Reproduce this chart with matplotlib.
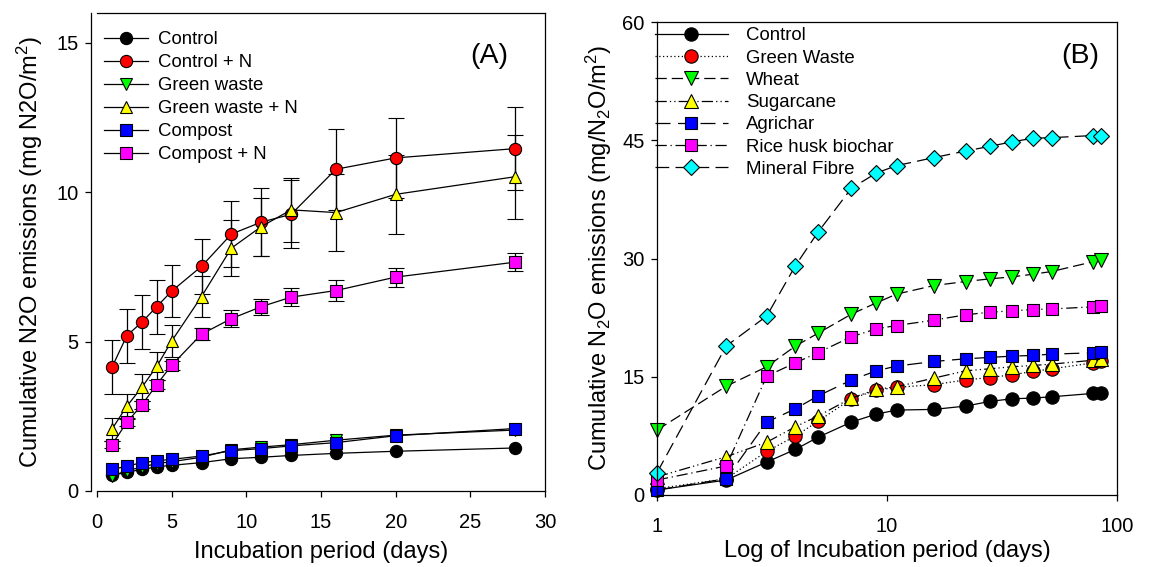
import matplotlib
matplotlib.use("Agg")
import matplotlib.pyplot as plt

plt.rcParams['font.family'] = ['Liberation Sans', 'DejaVu Sans']
plt.rcParams['mathtext.fontset'] = 'custom'
plt.rcParams['mathtext.rm'] = 'Liberation Sans'
plt.rcParams['mathtext.it'] = 'Liberation Sans:italic'
plt.rcParams['mathtext.default'] = 'regular'

# ---------------- Panel A data ----------------
days_a = [1, 2, 3, 4, 5, 7, 9, 11, 13, 16, 20, 28]
control_a = [0.52, 0.63, 0.72, 0.81, 0.86, 0.95, 1.08, 1.13, 1.19, 1.26, 1.33, 1.44]
control_n_a = [4.14, 5.2, 5.65, 6.17, 6.69, 7.52, 8.6, 9.0, 9.26, 10.77, 11.15, 11.46]
control_n_err = [0.9, 0.9, 0.9, 0.9, 0.88, 0.93, 1.1, 1.14, 1.14, 1.35, 1.35, 1.38]
green_a = [0.5, 0.68, 0.8, 0.92, 0.98, 1.13, 1.38, 1.47, 1.55, 1.7, 1.87, 2.04]
green_n_a = [2.07, 2.84, 3.47, 4.17, 5.02, 6.51, 8.13, 8.85, 9.41, 9.32, 9.93, 10.52]
green_n_err = [0.38, 0.4, 0.45, 0.47, 0.54, 0.7, 0.95, 0.97, 1.06, 1.3, 1.33, 1.4]
compost_a = [0.72, 0.83, 0.95, 1.01, 1.06, 1.17, 1.35, 1.42, 1.51, 1.62, 1.85, 2.09]
compost_n_a = [1.55, 2.3, 2.88, 3.56, 4.21, 5.25, 5.77, 6.17, 6.49, 6.71, 7.16, 7.66]
compost_n_err = [0.12, 0.12, 0.13, 0.15, 0.15, 0.2, 0.29, 0.27, 0.29, 0.34, 0.32, 0.29]
labels_a = ["Control", "Control + N", "Green waste", "Green waste + N", "Compost", "Compost + N"]

# ---------------- Panel B data ----------------
days_b = [1, 2, 3, 4, 5, 7, 9, 11, 16, 22, 28, 35, 43, 52, 79, 85]
control_b = [0.63, 1.9, 4.18, 5.79, 7.31, 9.25, 10.27, 10.77, 10.86, 11.28, 11.87, 12.21, 12.29, 12.46, 12.89, 12.97]
greenwaste_b = [0.8, 2.07, 5.53, 7.48, 9.33, 12.2, 13.3, 13.65, 14.0, 14.6, 14.9, 15.25, 15.67, 16.0, 16.77, 16.94]
wheat_b = [8.24, 13.8, 16.27, 18.9, 20.5, 22.94, 24.38, 25.48, 26.57, 27.08, 27.42, 27.67, 28.0, 28.35, 29.6, 29.8]
sugarcane_b = [2.3, 4.86, 6.7, 8.66, 10.0, 12.29, 13.4, 13.73, 14.83, 15.76, 16.01, 16.27, 16.43, 16.6, 17.1, 17.2]
agrichar_b = [0.63, 2.07, 9.25, 10.94, 12.55, 14.58, 15.76, 16.35, 16.94, 17.28, 17.45, 17.62, 17.7, 17.87, 18.04, 18.1]
ricehusk_b = [1.9, 3.68, 15.08, 16.77, 18.04, 20.07, 21.08, 21.5, 22.18, 22.86, 23.19, 23.36, 23.53, 23.6, 23.87, 23.95]
mineral_b = [2.83, 18.9, 22.7, 29.1, 33.3, 38.9, 40.85, 41.78, 42.8, 43.64, 44.23, 44.8, 45.25, 45.33, 45.6, 45.6]
labels_b = ["Control", "Green Waste", "Wheat", "Sugarcane", "Agrichar", "Rice husk biochar", "Mineral Fibre"]

fig = plt.figure(figsize=(11.54, 5.67), dpi=100)

TICK_FS = 14.5
LABEL_FS = 17
LEG_FS = 13.4
LW = 0.9
EW = 0.8

# ---------------- Panel A ----------------
axA = fig.add_axes([97/1154, 1-491/567, 448/1154, 478/567])
specs_a = [
    (control_a, None, 'o', 'black'),
    (control_n_a, control_n_err, 'o', '#FF0000'),
    (green_a, None, 'v', '#00FF00'),
    (green_n_a, green_n_err, '^', '#FFFF00'),
    (compost_a, None, 's', '#0000FF'),
    (compost_n_a, compost_n_err, 's', '#FF00FF'),
]
ms_a = {'o': 8.8, 'v': 8.8, '^': 9.2, 's': 8.0}
handles_a = []
for (vals, err, mk, col), lab in zip(specs_a, labels_a):
    cont = axA.errorbar(days_a, vals, yerr=err, fmt='-', color='black', lw=LW,
                        marker=mk, markersize=ms_a[mk], markerfacecolor=col,
                        markeredgecolor='black', markeredgewidth=EW,
                        ecolor='black', elinewidth=LW, capsize=6, capthick=LW,
                        label=lab, clip_on=False)
    handles_a.append(cont.lines[0])
axA.set_xlim(0, 30)
axA.set_ylim(0, 16)
axA.set_xticks([0, 5, 10, 15, 20, 25, 30])
axA.set_yticks([0, 5, 10, 15])
axA.spines['left'].set_position(('outward', 4.3))
for s in axA.spines.values():
    s.set_linewidth(0.9)
axA.tick_params(direction='out', length=4, width=0.9, labelsize=TICK_FS, pad=5)
axA.tick_params(axis='x', pad=12)
axA.set_xlabel("Incubation period (days)", fontsize=LABEL_FS, labelpad=6)
axA.set_ylabel("Cumulative N2O emissions (mg N2O/m$^2$)", fontsize=LABEL_FS, labelpad=8)
axA.text(0.875, 0.91, "(A)", transform=axA.transAxes, fontsize=20.5, ha='center', va='center')
legA = axA.legend(handles_a, labels_a, loc='upper left', bbox_to_anchor=(0.0156, 0.9616), frameon=False,
                  fontsize=LEG_FS, handlelength=2.37, handletextpad=0.54, labelspacing=0.32,
                  borderpad=0, borderaxespad=0)

# ---------------- Panel B ----------------
axB = fig.add_axes([657/1154, 1-495/567, 460/1154, 473/567])
specs_b = [
    (control_b, 'o', 'black', '-'),
    (greenwaste_b, 'o', '#FF0000', (0, (1, 2))),
    (wheat_b, 'v', '#00FF00', (0, (9, 4))),
    (sugarcane_b, '^', '#FFFF00', (0, (9, 2.5, 1, 2.5, 1, 2.5))),
    (agrichar_b, 's', '#0000FF', (0, (12, 6))),
    (ricehusk_b, 's', '#FF00FF', (0, (9, 3, 1, 3))),
    (mineral_b, 'D', '#00FFFF', (0, (11, 5))),
]
ms_b = {'o': 9.6, 'v': 9.6, '^': 9.6, 's': 8.6, 'D': 8.4}
for (vals, mk, col, ls), lab in zip(specs_b, labels_b):
    axB.plot(days_b, vals, linestyle=ls, color='black', lw=LW,
             marker=mk, markersize=ms_b[mk], markerfacecolor=col,
             markeredgecolor='black', markeredgewidth=EW, label=lab, clip_on=False)
axB.set_xscale('log')
axB.set_xlim(1, 100)
axB.set_ylim(0, 60)
axB.set_xticks([1, 10, 100])
axB.set_xticklabels(["1", "10", "100"])
axB.xaxis.set_minor_locator(matplotlib.ticker.NullLocator())
axB.set_yticks([0, 15, 30, 45, 60])
for s in axB.spines.values():
    s.set_linewidth(0.9)
axB.tick_params(direction='out', length=4, width=0.9, labelsize=TICK_FS, pad=5)
axB.tick_params(axis='x', pad=12)
axB.set_xlabel("Log of Incubation period (days)", fontsize=LABEL_FS, labelpad=3)
axB.set_ylabel("Cumulative N$_2$O emissions (mg/N$_2$O/m$^2$)", fontsize=LABEL_FS, labelpad=6)
axB.text(0.92, 0.928, "(B)", transform=axB.transAxes, fontsize=20.5, ha='center', va='center')
hB, lB = axB.get_legend_handles_labels()
legB = axB.legend(hB, lB, loc='upper left', bbox_to_anchor=(-0.004, 0.9885), frameon=False,
                  fontsize=LEG_FS, handlelength=3.9, handletextpad=1.0, labelspacing=0.28,
                  borderpad=0, borderaxespad=0)

fig.savefig("out.png", dpi=100)
